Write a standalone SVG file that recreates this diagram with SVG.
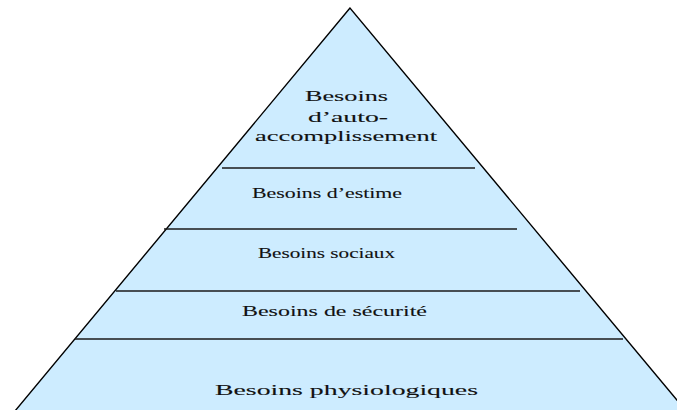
<svg xmlns="http://www.w3.org/2000/svg" width="677" height="410" viewBox="0 0 677 410">
<style>
.lbl{font-family:"Liberation Serif","Times New Roman",serif;font-size:15px;fill:#111;stroke:#111;stroke-width:0.1;}
.sep{stroke:#1a1a1a;stroke-width:1.6;fill:none;}
</style>
<rect width="677" height="410" fill="#ffffff"/>
<g id="pyramid">
<polygon points="350,8 15,411 686,411" fill="#cdecff" stroke="#000" stroke-width="1.4"/>
</g>
<g id="connectors">
<line class="sep" x1="222" y1="168" x2="475" y2="168"/>
<line class="sep" x1="164" y1="229" x2="517" y2="229"/>
<line class="sep" x1="116" y1="291" x2="580" y2="291"/>
<line class="sep" x1="75" y1="339" x2="623" y2="339"/>
</g>
<g id="level5">
<text class="lbl" x="305" y="101" textLength="83" lengthAdjust="spacingAndGlyphs">Besoins</text>
<text class="lbl" x="308" y="122" textLength="80" lengthAdjust="spacingAndGlyphs">d’auto-</text>
<text class="lbl" x="255" y="141" textLength="182" lengthAdjust="spacingAndGlyphs">accomplissement</text>
</g>
<g id="level4">
<text class="lbl" x="252" y="198" textLength="150" lengthAdjust="spacingAndGlyphs">Besoins d’estime</text>
</g>
<g id="level3">
<text class="lbl" x="258" y="258" textLength="137" lengthAdjust="spacingAndGlyphs">Besoins sociaux</text>
</g>
<g id="level2">
<text class="lbl" x="242" y="316" textLength="185" lengthAdjust="spacingAndGlyphs">Besoins de sécurité</text>
</g>
<g id="level1">
<text class="lbl" x="215" y="395" textLength="263" lengthAdjust="spacingAndGlyphs">Besoins physiologiques</text>
</g>
</svg>
